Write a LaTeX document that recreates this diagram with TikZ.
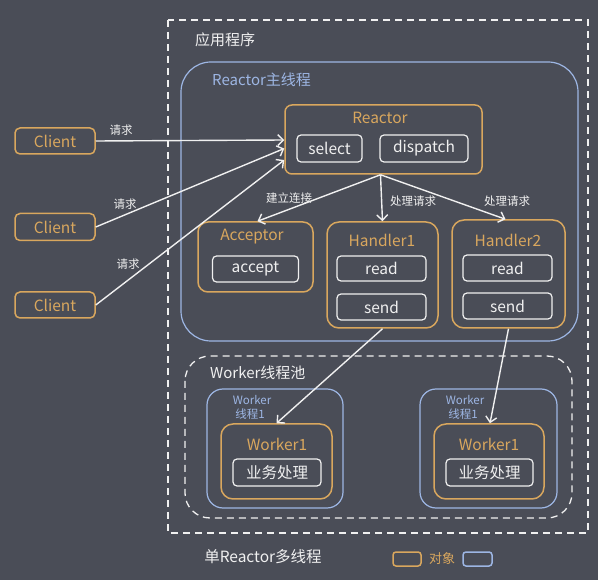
\documentclass[tikz,border=0pt]{standalone}
\usepackage{fontspec}
\setmainfont{Noto Sans CJK SC}
\usetikzlibrary{arrows.meta}
\definecolor{bgc}{HTML}{4A4D57}
\definecolor{orgc}{HTML}{D9A75E}
\definecolor{bluec}{HTML}{9DB6E4}
\definecolor{txtc}{HTML}{F0F0F0}
\tikzset{
  objbox/.style={draw=orgc, line width=1.5pt, rounded corners=7pt, inner sep=0pt},
  subbox/.style={draw=txtc, line width=1.2pt, rounded corners=4pt, text=txtc, font=\fontsize{15.5}{16}\selectfont, inner sep=0pt},
  thrbox/.style={draw=bluec, line width=1.2pt, rounded corners=16pt},
  dashbox/.style={draw=txtc, line width=1.3pt, dash pattern=on 7pt off 5pt},
  olabel/.style={text=orgc, font=\fontsize{15.5}{16}\selectfont, inner sep=0pt},
  wlabel/.style={text=txtc, font=\fontsize{15}{16}\selectfont, inner sep=0pt},
  slabel/.style={text=txtc, font=\fontsize{11.5}{12}\selectfont, inner sep=0pt},
  tlabel/.style={text=bluec, font=\fontsize{11.5}{12}\selectfont, inner sep=0pt},
  arr/.style={draw=txtc, line width=1.4pt, -{Straight Barb[length=5.5pt,width=11pt,line width=1.4pt]}},
}
\begin{document}
\begin{tikzpicture}[x=1pt,y=-1pt]
\fill[bgc] (0,0) rectangle (598,580);
\useasboundingbox (0,0) rectangle (598,580);

% application dashed frame
\draw[dashbox] (168,20) rectangle (588,533);
\node[wlabel, anchor=west] (app) at (195,40) {应用程序};

% Reactor main thread
\draw[thrbox, rounded corners=30pt] (181,62) rectangle (578,341);
\node[text=bluec, font=\fontsize{15}{16}\selectfont, inner sep=0pt, anchor=west] (rmt) at (212,80) {Reactor主线程};

% Reactor object
\node[objbox, minimum width=197pt, minimum height=69pt] (reactor) at (383.5,139.5) {};
\node[olabel] (reactorlbl) at (380,118) {Reactor};
\node[subbox, minimum width=65pt, minimum height=27pt] (select) at (329.5,148.5) {select};
\node[subbox, minimum width=88pt, minimum height=27pt] (dispatch) at (424,148.5) {dispatch};

% Clients
\node[objbox, rounded corners=5pt, minimum width=80pt, minimum height=26pt, text=orgc, font=\fontsize{15.5}{16}\selectfont] (c1) at (55,141) {Client};
\node[objbox, rounded corners=5pt, minimum width=80pt, minimum height=27pt, text=orgc, font=\fontsize{15.5}{16}\selectfont] (c2) at (55,227) {Client};
\node[objbox, rounded corners=5pt, minimum width=80pt, minimum height=26pt, text=orgc, font=\fontsize{15.5}{16}\selectfont] (c3) at (55,305) {Client};

% Acceptor
\node[objbox, rounded corners=10pt, minimum width=115pt, minimum height=70pt] (acceptor) at (255.5,257) {};
\node[olabel] (acclbl) at (252,237) {Acceptor};
\node[subbox, minimum width=86pt, minimum height=26pt] (accept) at (255.5,269) {accept};

% Handler1
\node[objbox, rounded corners=12pt, minimum width=111pt, minimum height=106pt] (h1) at (382.5,275) {};
\node[olabel] (h1lbl) at (382,240) {Handler1};
\node[subbox, minimum width=89pt, minimum height=25pt] (h1read) at (381.5,268.5) {read};
\node[subbox, minimum width=89pt, minimum height=26pt] (h1send) at (381.5,307) {send};

% Handler2
\node[objbox, rounded corners=12pt, minimum width=113pt, minimum height=108pt] (h2) at (508.5,274) {};
\node[olabel] (h2lbl) at (508,240) {Handler2};
\node[subbox, minimum width=89pt, minimum height=26pt] (h2read) at (507.5,268) {read};
\node[subbox, minimum width=89pt, minimum height=26pt] (h2send) at (507.5,306) {send};

% Worker pool
\draw[dashbox, rounded corners=25pt] (185,356) rectangle (572,518);
\node[wlabel, anchor=west] (pool) at (210,373) {Worker线程池};

% Worker threads
\draw[thrbox] (207,389) rectangle (343,508);
\draw[thrbox] (420,389) rectangle (557,508);
\node[tlabel] (wt1a) at (252,400) {Worker};
\node[tlabel] (wt1b) at (250,414.5) {线程1};
\node[tlabel] (wt2a) at (465,400) {Worker};
\node[tlabel] (wt2b) at (463,414.5) {线程1};

% Worker objects
\node[objbox, rounded corners=12pt, minimum width=111pt, minimum height=75pt] (w1) at (276.5,461.5) {};
\node[olabel] (w1lbl) at (277,444) {Worker1};
\node[subbox, minimum width=88pt, minimum height=27pt] (biz1) at (277,472.5) {业务处理};
\node[objbox, rounded corners=12pt, minimum width=110pt, minimum height=75pt] (w2) at (489,461.5) {};
\node[olabel] (w2lbl) at (489,444) {Worker1};
\node[subbox, minimum width=87pt, minimum height=27pt] (biz2) at (489.5,472.5) {业务处理};

% client arrows
\draw[arr] (c1.east) -- ([yshift=-0.5pt]reactor.west);
\draw[arr] (c2.east) -- ([yshift=-9pt]reactor.west);
\draw[arr] (c3.east) -- ([yshift=-20.5pt]reactor.west);
\node[slabel] (q1) at (121,130) {请求};
\node[slabel] (q2) at (125,204) {请求};
\node[slabel] (q3) at (128,264) {请求};

% reactor dispatch arrows
\draw[arr] ([xshift=-3pt]reactor.south) -- ([xshift=2pt]acceptor.north);
\draw[arr] ([xshift=-3pt]reactor.south) -- (h1.north);
\draw[arr] ([xshift=-3pt]reactor.south) -- ([xshift=-3pt]h2.north);
\node[slabel] (l1) at (289,198) {建立连接};
\node[slabel] (l2) at (413,201) {处理请求};
\node[slabel] (l3) at (507,201) {处理请求};

% handler to worker arrows
\draw[arr] (h1.south) -- (w1.north);
\draw[arr] (h2.south) -- ([xshift=1pt]w2.north);

% caption and legend
\node[text=txtc, font=\fontsize{15.5}{16}\selectfont, inner sep=0pt] (title) at (263,557) {单Reactor多线程};
\draw[draw=orgc, line width=1.5pt, rounded corners=3pt] (393,552) rectangle (421,566);
\node[text=orgc, font=\fontsize{13}{14}\selectfont, inner sep=0pt] (legobj) at (442,559) {对象};
\draw[draw=bluec, line width=1.5pt, rounded corners=3pt] (463,552) rectangle (492,566);
\end{tikzpicture}
\end{document}
